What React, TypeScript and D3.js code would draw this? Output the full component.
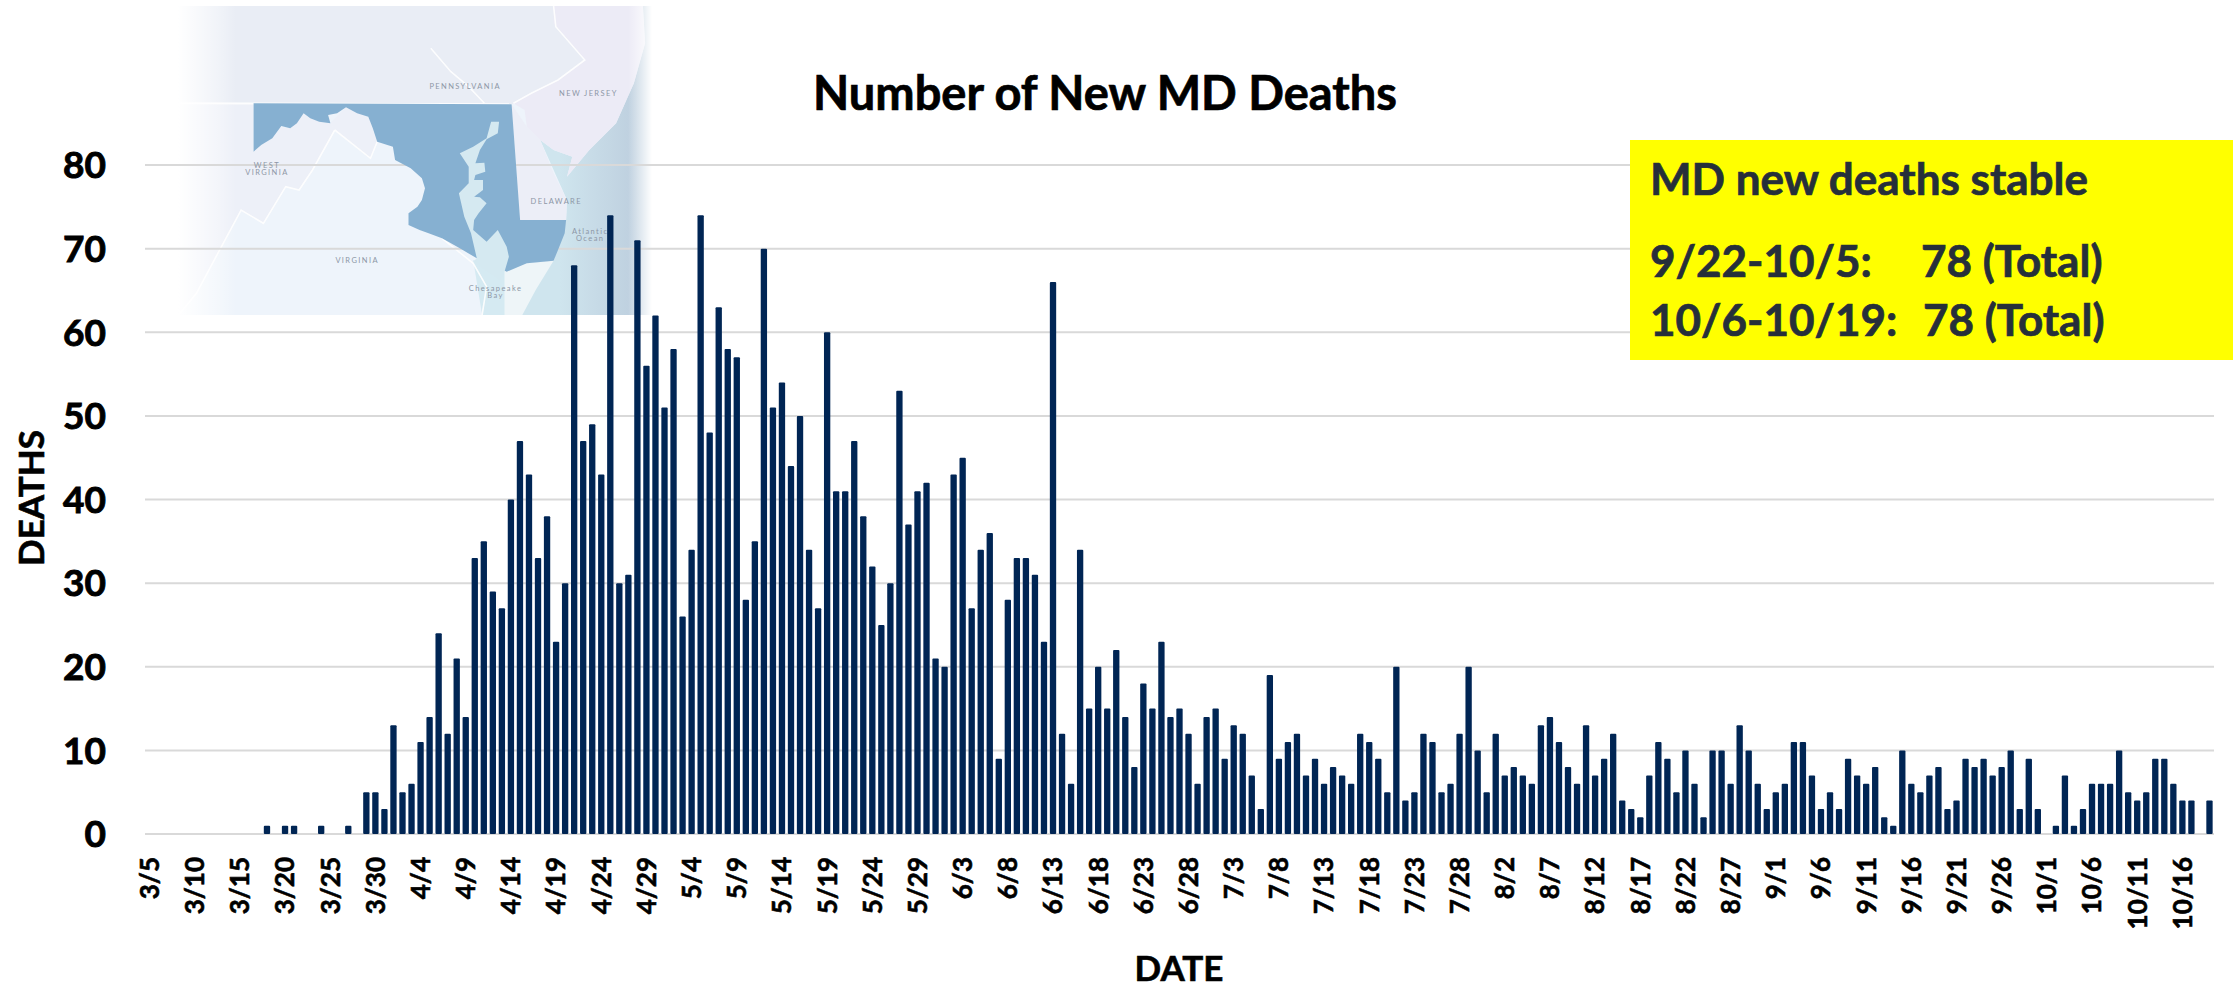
import React from "react";
import * as d3 from "d3";

const marchDeaths = [0,0,0,0,0,0,0,0,0,0,0,0,0,1,0,1,1,0,0,1,0,0,1,0,5,5,3];
const aprilDeaths = [13,5,6,11,14,24,12,21,14,33,35,29,27,40,47,43,33,38,23,30,68,47,49,43,74,30,31,71,56,62];
const mayDeaths = [51,58,26,34,74,48,63,58,57,28,35,70,51,54,44,50,34,27,60,41,41,47,38,32,25,30,53,37,41,42,21];
const juneDeaths = [20,43,45,27,34,36,9,28,33,33,31,23,66,12,6,34,15,20,15,22,14,8,18,15,23,14,15,12,6,14];
const julyDeaths = [15,9,13,12,7,3,19,9,11,12,7,9,6,8,7,6,12,11,9,5,20,4,5,12,11,5,6,12,20,10,5];
const augustDeaths = [12,7,8,7,6,13,14,11,8,6,13,7,9,12,4,3,2,7,11,9,5,10,6,2,10,10,6,13,10,6,3];
const septemberDeaths = [5,6,11,11,7,3,5,3,9,7,6,8,2,1,10,6,5,7,8,3,4,9,8,9,7,8,10,3,9,3];
const octoberDeaths = [0,1,7,1,3,6,6,6,10,5,4,5,9,9,6,4,4,0,4];
const monthNumbers = [3,4,5,6,7,8,9,10];
const monthSeries = [marchDeaths,aprilDeaths,mayDeaths,juneDeaths,julyDeaths,augustDeaths,septemberDeaths,octoberDeaths];
const firstDayOfMonth = [5,1,1,1,1,1,1,1];
const yTicks = [0,10,20,30,40,50,60,70,80];
const tickStep = 5;

const days = monthSeries.flatMap((s, m) => s.map((v, i) => ({ label: `${monthNumbers[m]}/${firstDayOfMonth[m] + i}`, value: v })));

const FONT = "Lato, 'Open Sans', sans-serif";
const x = d3.scaleBand<string>().domain(days.map(d => d.label)).range([145, 2214]).paddingInner(0.3).paddingOuter(0.15);
const y = d3.scaleLinear().domain([0, 80]).range([834, 165]);

// map helper: coordinates measured in a zoomed crop of the inset
const mx = (v: number) => v / 2.24;
const my = (v: number) => v / 3;
const poly = (s: string) => {
  const pts = s.trim().split(/\s+/).map(p => p.split(",").map(Number));
  return "M" + pts.map(p => `${mx(p[0]).toFixed(1)},${my(p[1]).toFixed(1)}`).join("L") + "Z";
};
const line = (s: string) => poly(s).slice(0, -1);

const mdShape = "568,310 1146,313 1165,660 1268,660 1265,700 1250,750 1240,782 1180,790 1135,815 1100,790 1068,775 1030,745 990,715 960,700 940,690 915,675 915,640 935,620 945,600 952,565 945,535 920,505 885,480 880,440 845,425 835,385 825,350 800,340 775,322 755,340 735,345 740,370 715,365 695,355 680,340 665,370 650,385 630,378 610,415 585,435 568,455";
const bayShape = "1100,365 1118,365 1115,400 1090,418 1075,450 1065,490 1085,488 1087,515 1065,525 1062,540 1082,540 1082,570 1062,590 1075,592 1090,610 1072,640 1062,660 1060,690 1090,725 1115,690 1135,740 1140,770 1130,815 1120,840 1060,785 1068,775 1055,700 1040,650 1028,580 1050,550 1050,500 1030,460 1060,440 1090,415";
const njShape = "1240,18 1440,18 1445,130 1420,250 1380,370 1320,450 1270,530 1282,470 1240,450 1210,420 1180,380 1175,330 1150,310 1190,280 1250,240 1310,180 1240,70";
const deShape = "1146,313 1180,380 1210,420 1240,520 1270,600 1268,660 1165,660";
const waterShape = "1440,18 1460,18 1460,945 1100,945 1180,790 1240,782 1268,660 1270,600 1210,420 1240,450 1282,470 1270,530 1320,450 1380,370 1420,250 1445,130";
const vaShape = "400,945 440,880 500,730 540,630 590,670 640,560 670,570 700,510 750,390 830,475 845,425 885,480 930,510 950,550 945,600 915,640 915,670 990,715 1060,790 1090,860 1080,945";
const vaEast = "1130,815 1180,790 1240,782 1200,870 1170,945 1130,945";
const lowerBay = "1060,780 1130,815 1170,945 1080,945";

const mapLabels = [
  { t: "PENNSYLVANIA", x: 1042, y: 268 },
  { t: "NEW JERSEY", x: 1318, y: 288 },
  { t: "DELAWARE", x: 1246, y: 612 },
  { t: "WEST", x: 598, y: 504 },
  { t: "VIRGINIA", x: 598, y: 526 },
  { t: "VIRGINIA", x: 800, y: 789 },
  { t: "Atlantic", x: 1322, y: 703 },
  { t: "Ocean", x: 1322, y: 723 },
  { t: "Chesapeake", x: 1110, y: 874 },
  { t: "Bay", x: 1110, y: 895 },
];

export default function App() {
  return (
    <svg width={2233} height={987} viewBox="0 0 2233 987" style={{ position: "absolute", left: 0, top: 0, display: "block", background: "#fff" }}>
      <defs>
        <linearGradient id="fadeL" x1="0" x2="1" y1="0" y2="0">
          <stop offset="0" stopColor="#fff" stopOpacity="1" />
          <stop offset="0.7" stopColor="#fff" stopOpacity="0.35" />
          <stop offset="1" stopColor="#fff" stopOpacity="0" />
        </linearGradient>
        <linearGradient id="fadeR" x1="0" x2="1" y1="0" y2="0">
          <stop offset="0" stopColor="#fff" stopOpacity="0" />
          <stop offset="0.6" stopColor="#fff" stopOpacity="0" />
          <stop offset="1" stopColor="#fff" stopOpacity="1" />
        </linearGradient>
        <linearGradient id="shadeR" gradientUnits="userSpaceOnUse" x1="560" x2="635" y1="0" y2="0">
          <stop offset="0" stopColor="#bccddd" stopOpacity="0" />
          <stop offset="1" stopColor="#bccddd" stopOpacity="0.9" />
        </linearGradient>
      </defs>

      {/* inset map, background */}
      <rect x={178} y={6} width={474} height={309} fill="#eef4fb" />
      <rect x={178} y={6} width={474} height={98} fill="#e9edf5" />
      <path d={poly(vaShape)} fill="#eef4fb" />
      <path d={poly("400,310 568,310 568,455 585,435 625,380 650,385 680,340 715,365 740,370 750,390 700,510 670,570 640,560 590,670 540,630 500,730 440,880 400,945")} fill="#edf0f8" />
      <path d={poly("750,390 740,370 775,322 825,350 835,385 845,425 830,475")} fill="#edf0f8" />
      <path d={poly(waterShape)} fill="#cfe5ee" />
      <path d={poly(waterShape)} fill="url(#shadeR)" />
      <path d={poly(njShape)} fill="#ecebf6" />
      <path d={poly(deShape)} fill="#eceef7" />
      <path d={poly(lowerBay)} fill="#d5eaf2" />
      <path d={poly(vaEast)} fill="#eef5f8" />
      <g fill="none" stroke="#ffffff" strokeWidth={1.6} opacity={0.9}>
        <path d={line("400,310 1146,313")} strokeWidth={2} />
        <path d={line("965,145 1010,215 1050,260 1085,310")} />
        <path d={line("1240,18 1245,80 1310,180 1250,240 1190,280 1150,310")} />
        <path d={line("750,390 830,475 845,425")} />
        <path d={line("750,390 700,510 670,570 640,560 590,670 540,630 500,730 440,880 400,945")} />
        <path d={line("990,715 1060,790 1090,860 1080,945")} />
      </g>
      <rect x={178} y={6} width={58} height={309} fill="url(#fadeL)" />
      <rect x={592} y={6} width={60} height={309} fill="url(#fadeR)" />

      {/* grid */}
      {yTicks.map(t => (
        <line key={t} x1={145} x2={2214} y1={y(t)} y2={y(t)} stroke="#d9d9d9" strokeWidth={2} />
      ))}

      {/* inset map, Maryland on top of the grid */}
      <path d={poly(mdShape)} fill="#86b0d1" />
      <path d={poly(bayShape)} fill="#d5e9f1" />
      <g fontFamily={FONT} fontSize={7.5} fill="#8d97a6" textAnchor="middle" letterSpacing={1.4}>
        {mapLabels.map((l, i) => (
          <text key={i} x={mx(l.x)} y={my(l.y)}>{l.t}</text>
        ))}
      </g>

      {/* bars */}
      {days.filter(d => d.value > 0).map(d => (
        <rect key={d.label} x={x(d.label)} y={y(d.value)} width={x.bandwidth()} height={y(0) - y(d.value)} rx={1} fill="#002554" />
      ))}

      {/* y axis */}
      <g fontFamily={FONT} fontWeight={700} fontSize={37} fill="#000" stroke="#000" strokeWidth={0.9} textAnchor="end">
        {yTicks.map(t => (
          <text key={t} x={106} y={y(t)} dy="0.36em">{t}</text>
        ))}
      </g>

      {/* x axis */}
      <g fontFamily={FONT} fontWeight={700} fontSize={26} fill="#000" stroke="#000" strokeWidth={0.6} textAnchor="end">
        {days.filter((_, i) => i % tickStep === 0).map(d => {
          const cx = x(d.label)! + x.bandwidth() / 2;
          return (
            <text key={d.label} transform={`translate(${cx},857) rotate(-90)`} dy="0.36em">{d.label}</text>
          );
        })}
      </g>

      {/* titles */}
      <text x={1105} y={110} textAnchor="middle" fontFamily={FONT} fontWeight={700} fontSize={47} fill="#000" stroke="#000" strokeWidth={0.7}>Number of New MD Deaths</text>
      <text transform="translate(31,498) rotate(-90)" dy="0.36em" textAnchor="middle" fontFamily={FONT} fontWeight={700} fontSize={35} fill="#000" stroke="#000" strokeWidth={0.6}>DEATHS</text>
      <text x={1179} y={981} textAnchor="middle" fontFamily={FONT} fontWeight={700} fontSize={35} fill="#000" stroke="#000" strokeWidth={0.6}>DATE</text>

      {/* note */}
      <rect x={1630} y={140} width={603} height={220} fill="#ffff00" />
      <g fontFamily={FONT} fontWeight={700} fontSize={44} fill="#262f3a" stroke="#262f3a" strokeWidth={0.7}>
        <text x={1650} y={195}>MD new deaths stable</text>
        <text x={1650} y={277}>9/22-10/5:</text>
        <text x={1921} y={277}>78 (Total)</text>
        <text x={1650} y={336}>10/6-10/19:</text>
        <text x={1923} y={336}>78 (Total)</text>
      </g>
    </svg>
  );
}
